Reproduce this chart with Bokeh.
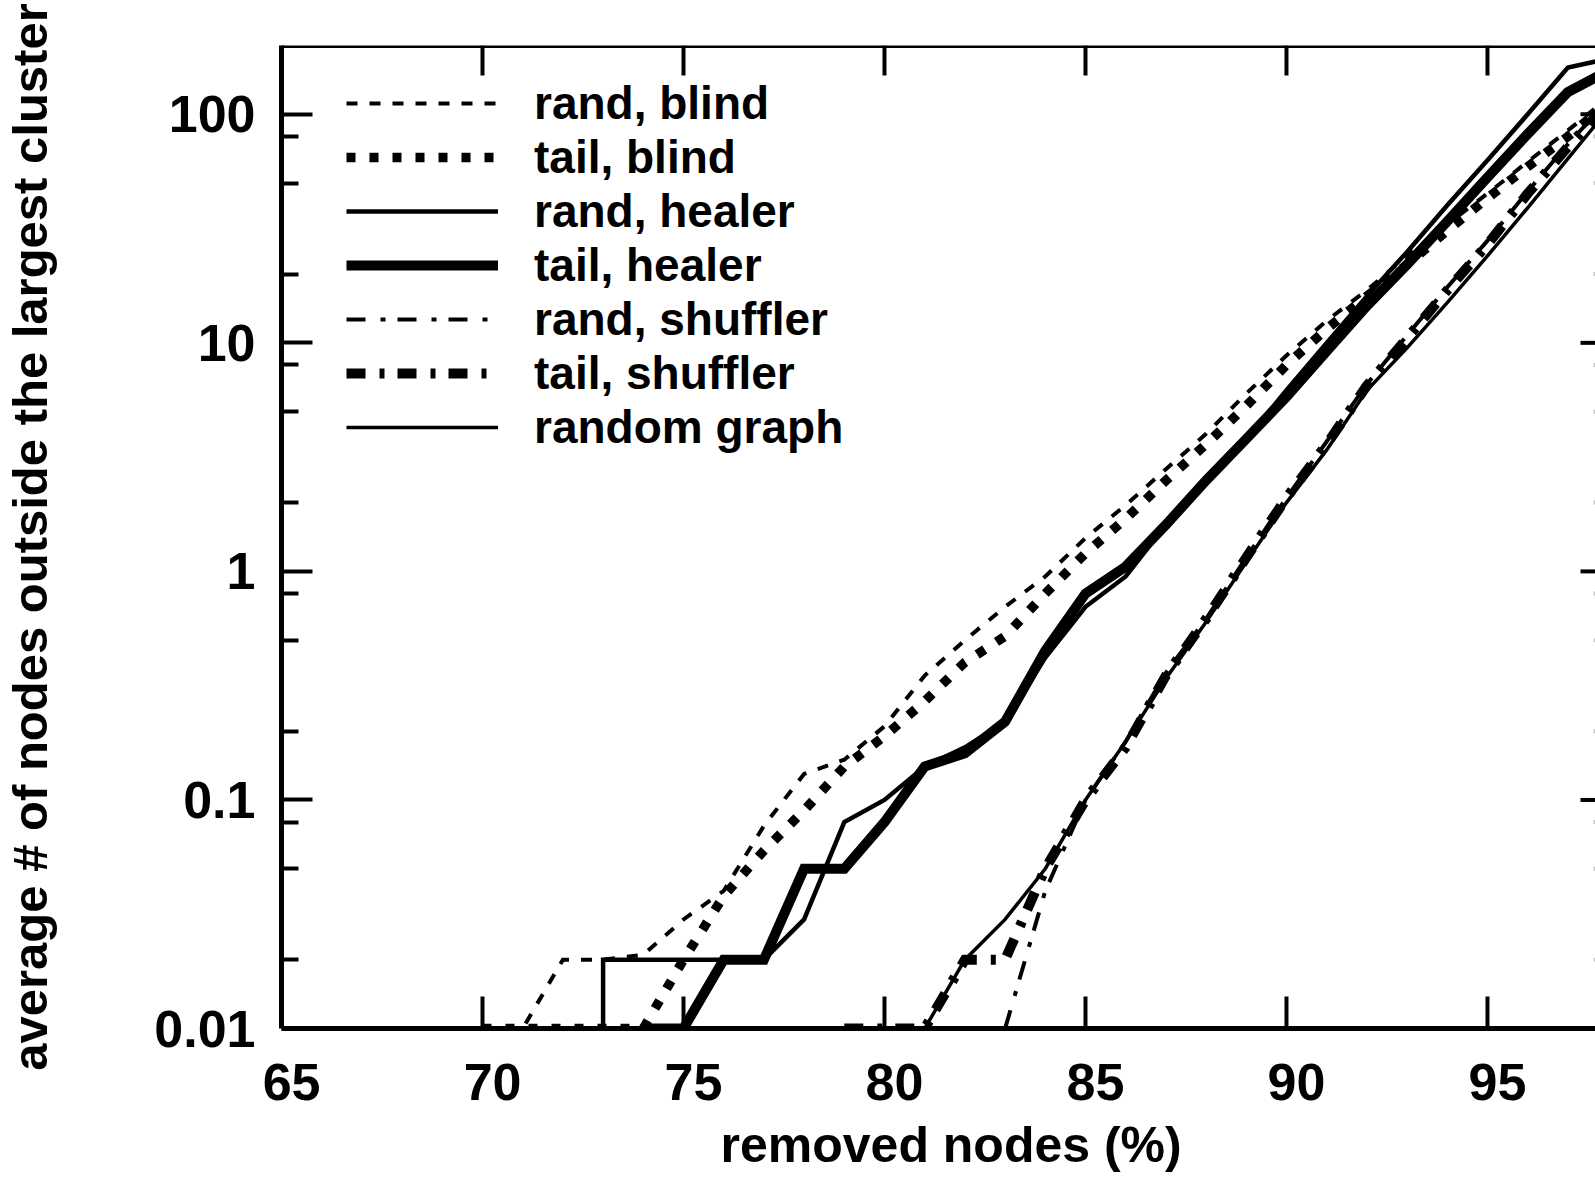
from math import pi

from bokeh.plotting import figure
from bokeh.models import (Range1d, LogAxis, LinearAxis, FixedTicker, Legend,
                          LegendItem, CustomJSTickFormatter, Span, Title)
from bokeh.core.properties import value
from bokeh.embed import file_html
from bokeh.resources import INLINE

# ---- data: removed nodes (%) vs. average # of nodes outside the largest cluster ----
rand_blind_x = [70, 71, 72, 73, 74, 75, 76, 77, 78, 79, 80, 81, 82, 83, 84,
                85, 86, 87, 88, 89, 90, 91, 92, 93, 94, 95, 96, 97, 98]
rand_blind_y = [0.01, 0.01, 0.02, 0.02, 0.021, 0.03, 0.04, 0.077, 0.13, 0.15,
                0.21, 0.35, 0.5, 0.7, 0.95, 1.4, 1.95, 2.8, 4.0, 6.0, 8.8,
                12.5, 17, 24, 33, 45, 62, 85, 118]

tail_blind_x = [70, 71, 72, 73, 74, 75, 76, 77, 78, 79, 80, 81, 82, 83, 84,
                85, 86, 87, 88, 89, 90, 91, 92, 93, 94, 95, 96, 97, 98]
tail_blind_y = [0.01, 0.01, 0.01, 0.01, 0.01, 0.02, 0.038, 0.06, 0.09, 0.14,
                0.19, 0.27, 0.4, 0.52, 0.8, 1.2, 1.7, 2.5, 3.6, 5.3, 8.0,
                11.5, 16, 22, 31, 43, 59, 80, 112]

rand_healer_x = [73, 73, 74, 75, 76, 77, 78, 79, 80, 81, 82, 83, 84, 85, 86,
                 87, 88, 89, 90, 91, 92, 93, 94, 95, 96, 97, 98]
rand_healer_y = [0.01, 0.02, 0.02, 0.02, 0.02, 0.02, 0.03, 0.08, 0.1, 0.14,
                 0.17, 0.22, 0.42, 0.7, 0.95, 1.6, 2.5, 3.8, 6.2, 10, 16, 25,
                 40, 63, 100, 160, 175]

tail_healer_x = [74, 75, 76, 77, 78, 79, 80, 81, 82, 83, 84, 85, 86, 87, 88,
                 89, 90, 91, 92, 93, 94, 95, 96, 97, 98]
tail_healer_y = [0.01, 0.01, 0.02, 0.02, 0.05, 0.05, 0.08, 0.14, 0.16, 0.22,
                 0.45, 0.8, 1.05, 1.6, 2.5, 3.8, 5.8, 9.2, 14.5, 22, 34, 53,
                 82, 125, 155]

rand_shuffler_x = [83, 84, 85, 86, 87, 88, 89, 90, 91, 92, 93, 94, 95, 96, 97, 98]
rand_shuffler_y = [0.01, 0.04, 0.1, 0.18, 0.36, 0.62, 1.15, 2.1, 3.7, 6.6,
                   10.8, 17.5, 28, 46, 74, 115]

tail_shuffler_x = [79, 80, 81, 82, 83, 84, 85, 86, 87, 88, 89, 90, 91, 92, 93,
                   94, 95, 96, 97, 98]
tail_shuffler_y = [0.01, 0.01, 0.01, 0.02, 0.02, 0.05, 0.1, 0.17, 0.35, 0.62,
                   1.15, 2.1, 3.6, 6.5, 10.5, 17, 27, 45, 72, 112]

random_graph_x = [81, 82, 83, 84, 85, 86, 87, 88, 89, 90, 91, 92, 93, 94, 95,
                  96, 97, 98]
random_graph_y = [0.01, 0.02, 0.03, 0.05, 0.1, 0.18, 0.34, 0.6, 1.1, 2.0, 3.4,
                  6.2, 9.5, 15, 24, 39, 64, 105]

x_major = [65, 70, 75, 80, 85, 90, 95]
y_major = [0.01, 0.1, 1, 10, 100]
y_minor = [0.02, 0.05, 0.08, 0.2, 0.5, 0.8, 2, 5, 8, 20, 50, 80]

FONT = "Liberation Sans"
X_START, X_END = 65, 97.687
Y_START, Y_END = 0.01, 200
LABEL_SHIFT = 0.25   # tick labels sit slightly right of their ticks

p = figure(width=1595, height=1184,
           x_range=Range1d(X_START, X_END), y_range=Range1d(Y_START, Y_END),
           y_axis_type="log", x_axis_location=None, y_axis_location=None,
           output_backend="svg", toolbar_location=None,
           min_border_left=281, min_border_right=0,
           min_border_top=45, min_border_bottom=154)
p.outline_line_color = None
p.background_fill_color = "white"
p.border_fill_color = "white"
for g in p.grid:
    g.visible = False
p.extra_x_ranges = {"labels": Range1d(X_START - LABEL_SHIFT, X_END - LABEL_SHIFT)}


def style_axis(ax):
    ax.axis_line_color = "black"
    ax.axis_line_width = 5
    ax.major_tick_line_color = "black"
    ax.major_tick_line_width = 4
    ax.minor_tick_line_color = "black"
    ax.minor_tick_line_width = 4
    ax.major_tick_out = 0
    ax.minor_tick_out = 0
    ax.major_label_text_color = "black"
    ax.major_label_text_font = FONT
    ax.major_label_text_font_style = "bold"
    ax.axis_label_text_color = "black"
    ax.axis_label_text_font = FONT
    ax.axis_label_text_font_style = "bold"
    return ax


# left axis: frame line, ticks, labels and title
left = style_axis(LogAxis(ticker=FixedTicker(ticks=y_major, minor_ticks=y_minor),
                          formatter=CustomJSTickFormatter(code="return String(tick)")))
left.major_tick_in = 31
left.minor_tick_in = 17
left.major_label_text_font_size = "52px"
left.major_label_standoff = 26
left.axis_label = "average # of nodes outside the largest cluster"
left.axis_label_text_font_size = "49px"
left.axis_label_standoff = 94
p.add_layout(left, "left")

# bottom axis: frame line and tick labels (ticks are drawn below)
bottom = style_axis(LinearAxis(x_range_name="labels",
                               ticker=FixedTicker(ticks=x_major, minor_ticks=[])))
bottom.major_tick_line_color = None
bottom.major_tick_in = 0
bottom.major_label_text_font_size = "52px"
bottom.major_label_standoff = 35
p.add_layout(bottom, "below")

# x-axis title
p.add_layout(Title(text="removed nodes (%)", align="left", offset=439,
                   standoff=24, text_font=FONT, text_font_style="bold",
                   text_font_size="50px", text_color="black"), "below")

# top frame line
p.add_layout(Span(location=Y_END, dimension="width", line_color="black", line_width=5))

# inward ticks on the bottom, top and right edges of the frame
tick_style = dict(line_color="black", line_width=4, length_units="screen")
p.ray(x=x_major, y=[Y_START] * len(x_major), length=32, angle=pi / 2, **tick_style)
p.ray(x=x_major, y=[Y_END] * len(x_major), length=30, angle=-pi / 2, **tick_style)
p.ray(x=[X_END] * len(y_major), y=y_major, length=15, angle=pi, **tick_style)
p.ray(x=[X_END] * len(y_minor), y=y_minor, length=2, angle=pi,
      line_color="#c8c8c8", line_width=4, length_units="screen")

# ---- curves ----
common = dict(line_color="black", line_cap="butt", line_join="miter")
r_rb = p.line(rand_blind_x, rand_blind_y, line_width=4, line_dash="11 12", **common)
r_tb = p.line(tail_blind_x, tail_blind_y, line_width=9.5, line_dash="9 14", **common)
r_rh = p.line(rand_healer_x, rand_healer_y, line_width=4.5, **common)
r_th = p.line(tail_healer_x, tail_healer_y, line_width=10, **common)
r_rs = p.line(rand_shuffler_x, rand_shuffler_y, line_width=4, line_dash="19 15 5 12", **common)
r_ts = p.line(tail_shuffler_x, tail_shuffler_y, line_width=10, line_dash="19 14 5 13", **common)
r_rg = p.line(random_graph_x, random_graph_y, line_width=3.5, **common)

legend = Legend(
    items=[
        LegendItem(label=value("rand, blind"), renderers=[r_rb]),
        LegendItem(label=value("tail, blind"), renderers=[r_tb]),
        LegendItem(label=value("rand, healer"), renderers=[r_rh]),
        LegendItem(label=value("tail, healer"), renderers=[r_th]),
        LegendItem(label=value("rand, shuffler"), renderers=[r_rs]),
        LegendItem(label=value("tail, shuffler"), renderers=[r_ts]),
        LegendItem(label=value("random graph"), renderers=[r_rg]),
    ],
    location=(65, 574),
    label_text_font=FONT, label_text_font_style="bold",
    label_text_font_size="46px", label_text_color="black",
    glyph_width=152, glyph_height=40, label_height=40,
    spacing=0, padding=0, margin=0, label_standoff=36,
    border_line_color=None, background_fill_alpha=0,
)
p.add_layout(legend)

open("out.html", "w").write(file_html(p, INLINE))
